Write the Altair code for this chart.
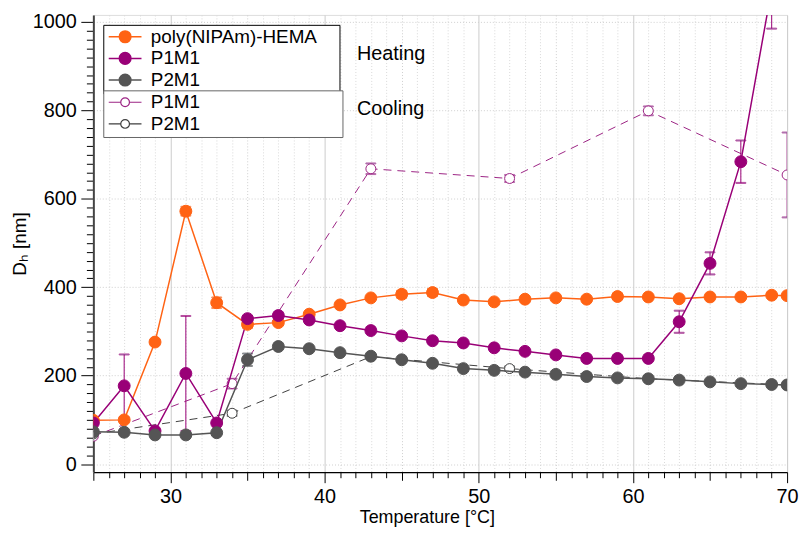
import altair as alt
import pandas as pd

# ---------------- data ----------------
T_HEAT = [25, 27, 29, 31, 33, 35, 37, 39, 41, 43, 45, 47, 49, 51, 53, 55, 57, 59, 61, 63, 65, 67, 69, 70]
HEMA_D = [99, 100, 276, 572, 365, 316, 320, 339, 360, 376, 384, 388, 371, 367, 373, 376, 373, 379, 378, 374, 378, 378, 382, 381]
HEMA_ERR = [0, 0, 6, 10, 12, 8, 0, 0, 0, 0, 8, 8, 0, 0, 0, 0, 0, 6, 0, 0, 0, 0, 0, 0]

T_P1M1 = [25, 27, 29, 31, 33, 35, 37, 39, 41, 43, 45, 47, 49, 51, 53, 55, 57, 59, 61, 63, 65, 67, 69]
P1M1_D = [93, 177, 75, 205, 93, 329, 336, 326, 313, 302, 290, 279, 274, 263, 255, 247, 239, 239, 239, 322, 454, 684, 1075]
P1M1_ERR = [0, 71, 0, 130, 0, 6, 0, 0, 0, 0, 0, 0, 0, 0, 0, 0, 0, 0, 0, 25, 25, 48, 90]

P2M1_D = [73, 72, 66, 66, 71, 236, 266, 261, 252, 244, 236, 228, 216, 212, 208, 203, 198, 195, 193, 190, 186, 182, 180, 179]
P2M1_ERR = [0, 0, 0, 0, 0, 14, 0, 0, 0, 0, 0, 0, 0, 0, 0, 0, 0, 0, 0, 0, 0, 0, 0, 0]

T_COOL = [25, 34, 43, 52, 61, 70]
P1M1_COOL = [63, 182, 668, 646, 799, 654]
P1M1_COOL_ERR = [0, 11, 12, 8, 10, 96]
P2M1_COOL = [68, 115, 243, 216, 193, 179]
P2M1_COOL_ERR = [0, 6, 0, 5, 0, 0]

NAMES = ["poly(NIPAm)-HEMA", "P1M1", "P2M1", "P1M1 (cooling)", "P2M1 (cooling)"]
STROKES = ["#FF6314", "#990077", "#555555", "#9C2484", "#3F3F3F"]
FILLS = ["#FF6314", "#990077", "#555555", "#FFFFFF", "#FFFFFF"]
HEAT_NAMES = NAMES[:3]
COOL_NAMES = NAMES[3:]

X_MAJOR = [30, 40, 50, 60, 70]
X_MID = [25, 35, 45, 55, 65]
X_MINOR = [t for t in range(26, 70) if t % 5 != 0]
Y_MAJOR = [0, 200, 400, 600, 800, 1000]
Y_MINOR = [v for v in range(0, 1001, 20) if v % 200 != 0]

ANNOT_TEXT = ["Heating", "Cooling"]
ANNOT_T = [42.1, 42.1]
ANNOT_D = [927, 803]

FONT = "Liberation Sans"
NBSP = "\u00a0"
BLANK = "\u2800"  # invisible glyph that is not stripped as whitespace

# ---------------- tables ----------------
rows = []


def add(name, phase, temps, vals, errs):
    for t, v, e in zip(temps, vals, errs):
        rows.append({"T": t, "D": v, "err": e, "lo": v - e, "hi": v + e,
                     "series": name, "phase": phase})


add(NAMES[0], "heating", T_HEAT, HEMA_D, HEMA_ERR)
add(NAMES[1], "heating", T_P1M1, P1M1_D, P1M1_ERR)
add(NAMES[2], "heating", T_HEAT, P2M1_D, P2M1_ERR)
add(NAMES[3], "cooling", T_COOL, P1M1_COOL, P1M1_COOL_ERR)
add(NAMES[4], "cooling", T_COOL, P2M1_COOL, P2M1_COOL_ERR)

df = pd.DataFrame(rows)
heat = df[df.phase == "heating"]
cool = df[df.phase == "cooling"]
err_heat = heat[heat.err > 0]
err_cool = cool[cool.err > 0]


def caps(d):
    return pd.concat([d.assign(cap=d.lo), d.assign(cap=d.hi)], ignore_index=True)


caps_heat = caps(err_heat)
caps_cool = caps(err_cool)
annot = pd.DataFrame({"T": ANNOT_T, "D": ANNOT_D, "text": ANNOT_TEXT})
axis_df = pd.DataFrame({"T": [25], "D": [0]})

# ---------------- scales ----------------
x_scale = alt.Scale(domain=[25, 70], nice=False, zero=False)
y_scale = alt.Scale(domain=[-18, 1016], nice=False, zero=False)
stroke_scale = alt.Scale(domain=NAMES, range=STROKES)
fill_scale = alt.Scale(domain=NAMES, range=FILLS)

X = alt.X("T:Q", scale=x_scale, axis=None)
Y = alt.Y("D:Q", scale=y_scale, axis=None)
S = alt.Stroke("series:N", scale=stroke_scale, legend=None)

# legend symbols: a short line with a circle in the middle
PATH_H = "M-2.82,0L-1,0M1,0L2.82,0M-1,0A1,1,0,1,0,1,0A1,1,0,1,0,-1,0Z"
PATH_C = "M-3.76,0L-1,0M1,0L3.76,0M-1,0A1,1,0,1,0,1,0A1,1,0,1,0,-1,0Z"

leg_heat = alt.Legend(
    title=None, orient="none", legendX=10, legendY=10, values=HEAT_NAMES,
    symbolType=PATH_H, symbolSize=137, symbolStrokeWidth=1.5, symbolOffset=10,
    labelOffset=16.4, labelFont=FONT, labelFontSize=19, labelColor="black",
    labelExpr="datum.label + '" + NBSP + BLANK + "'", labelLimit=400,
    padding=2.5, rowPadding=1.8, strokeColor="black", fillColor="white", zindex=0,
)
leg_cool = alt.Legend(
    title=None, orient="none", legendX=10, legendY=76, values=COOL_NAMES,
    symbolType=PATH_C, symbolSize=77, symbolStrokeWidth=1.2, symbolOffset=10,
    labelOffset=16.4, labelFont=FONT, labelFontSize=19, labelColor="black",
    labelExpr="replace(datum.label, ' (cooling)', '') + '" + NBSP * 24 + BLANK + "'",
    labelLimit=400,
    padding=2.5, rowPadding=1.8, strokeColor="#666666", fillColor="white", zindex=1,
)

grid_dot = dict(grid=True, gridColor="#cfcfcf", gridDash=[1, 2], gridWidth=1)

x_major = alt.Chart(axis_df).mark_point(opacity=0).encode(
    x=alt.X("T:Q", scale=x_scale, axis=alt.Axis(
        orient="bottom", values=X_MAJOR, tickSize=10.7, tickColor="black", tickWidth=1,
        labels=True, labelFont=FONT, labelFontSize=20, labelColor="black", labelPadding=4,
        labelFlush=False, domain=True, domainColor="black", domainWidth=1.3,
        grid=True, gridColor="#cccccc", gridWidth=1,
        title="Temperature [°C]", titleFont=FONT, titleFontSize=18, titleFontWeight="normal",
        titleColor="black", titlePadding=2, titleX=336, titleAlign="center")),
    y=alt.Y("D:Q", scale=y_scale, axis=None),
)
x_mid = alt.Chart(axis_df).mark_point(opacity=0).encode(
    x=alt.X("T:Q", scale=x_scale, axis=alt.Axis(
        orient="bottom", values=X_MID, tickSize=8.3, tickColor="black", tickWidth=1,
        labels=False, domain=False, title=None, **grid_dot)),
    y=alt.Y("D:Q", scale=y_scale, axis=None),
)
x_minor = alt.Chart(axis_df).mark_point(opacity=0).encode(
    x=alt.X("T:Q", scale=x_scale, axis=alt.Axis(
        orient="bottom", values=X_MINOR, tickSize=5.7, tickColor="black", tickWidth=1,
        labels=False, domain=False, title=None,
        grid=True, gridColor="#d9d9d9", gridDash=[1, 2], gridWidth=1)),
    y=alt.Y("D:Q", scale=y_scale, axis=None),
)
y_major = alt.Chart(axis_df).mark_point(opacity=0).encode(
    x=alt.X("T:Q", scale=x_scale, axis=None),
    y=alt.Y("D:Q", scale=y_scale, axis=alt.Axis(
        orient="left", values=Y_MAJOR, format="d", tickSize=12.6, tickColor="black", tickWidth=1,
        labelFont=FONT, labelFontSize=20, labelColor="black", labelPadding=4.5,
        labelFlush=False, domain=True, domainColor="#444444", domainWidth=2,
        title="Dₕ [nm]", titleFont=FONT, titleFontSize=19, titleFontWeight="normal",
        titleColor="black", titlePadding=3, **grid_dot)),
)
y_minor = alt.Chart(axis_df).mark_point(opacity=0).encode(
    x=alt.X("T:Q", scale=x_scale, axis=None),
    y=alt.Y("D:Q", scale=y_scale, axis=alt.Axis(
        orient="left", values=Y_MINOR, tickSize=7, tickColor="black", tickWidth=1,
        labels=False, domain=False, grid=False, title=None)),
)

cool_lines = alt.Chart(cool).mark_line(strokeWidth=1, strokeDash=[8, 6], clip=True).encode(
    X, Y, S, order="T:Q")
cool_err = alt.Chart(err_cool).mark_rule(strokeWidth=1, clip=True).encode(
    X, alt.Y("lo:Q", scale=y_scale, axis=None), alt.Y2("hi:Q"), S)
cool_caps = alt.Chart(caps_cool).mark_tick(orient="horizontal", size=10, thickness=1, clip=True).encode(
    X, alt.Y("cap:Q", scale=y_scale, axis=None), S)
cool_pts = alt.Chart(cool).mark_point(filled=True, size=100, strokeWidth=1, opacity=1, clip=True).encode(
    X, Y,
    fill=alt.Fill("series:N", scale=fill_scale, legend=leg_cool),
    stroke=alt.Stroke("series:N", scale=stroke_scale, legend=leg_cool),
)

heat_lines = alt.Chart(heat).mark_line(strokeWidth=1.5, clip=True).encode(
    X, Y, S, order="T:Q")
heat_err = alt.Chart(err_heat).mark_rule(strokeWidth=1, clip=True).encode(
    X, alt.Y("lo:Q", scale=y_scale, axis=None), alt.Y2("hi:Q"), S)
heat_caps = alt.Chart(caps_heat).mark_tick(orient="horizontal", size=10, thickness=1, clip=True).encode(
    X, alt.Y("cap:Q", scale=y_scale, axis=None), S)
heat_pts = alt.Chart(heat).mark_point(filled=True, size=144, strokeWidth=1, opacity=1, clip=True).encode(
    X, Y,
    fill=alt.Fill("series:N", scale=fill_scale, legend=leg_heat),
    stroke=alt.Stroke("series:N", scale=stroke_scale, legend=leg_heat),
)

annot_text = alt.Chart(annot).mark_text(
    align="left", baseline="middle", font=FONT, fontSize=20, color="black").encode(
    X, Y, text="text:N")

chart = alt.layer(
    x_minor, x_mid, x_major, y_minor, y_major,
    cool_lines, cool_err, cool_caps, cool_pts,
    heat_lines, heat_err, heat_caps, heat_pts,
    annot_text,
).resolve_axis(
    x="independent", y="independent"
).resolve_legend(
    fill="independent", stroke="independent"
).properties(
    width=699, height=460.6,
    autosize=alt.AutoSizeParams(type="none"),
    padding={"left": 86, "top": 5, "right": 12, "bottom": 55},
).configure_view(
    stroke="black", strokeWidth=1.3
).configure_legend(
    strokeWidth=1.3
).configure(
    font=FONT
)

chart.save("out.html", embed_options={"renderer": "svg", "actions": False})
